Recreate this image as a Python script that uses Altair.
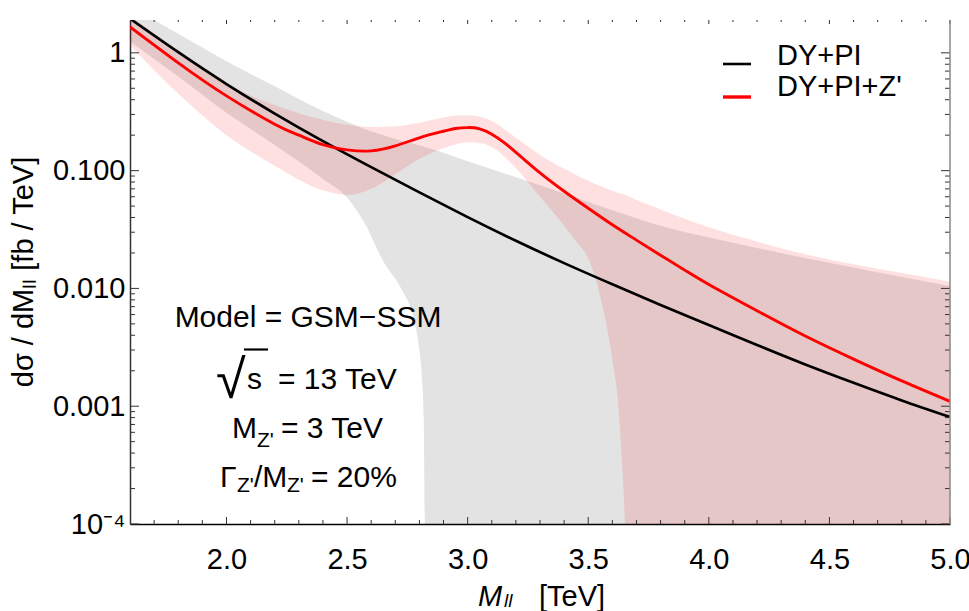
import altair as alt
import pandas as pd

FONT = "Liberation Sans"

# ---------------- series ----------------
M_BLACK = [1.6, 1.8, 2.0, 2.2, 2.4, 2.6, 2.8, 3.0, 3.2, 3.4, 3.6, 3.8, 4.0, 4.2, 4.4, 4.6, 4.8, 5.0]
DY_PI = [1.95, 1.012, 0.543, 0.305, 0.178, 0.107, 0.0653, 0.0403, 0.0254, 0.0164, 0.01084,
         0.00724, 0.0049, 0.00331, 0.00226, 0.00158, 0.00112, 0.00081]

M_RED = [1.6, 1.8, 2.0, 2.2, 2.3, 2.4, 2.5, 2.6, 2.7, 2.8, 2.9, 2.95, 3.0, 3.05, 3.1, 3.15, 3.2,
         3.3, 3.4, 3.5, 3.6, 3.7, 3.8, 3.9, 4.0, 4.2, 4.4, 4.6, 4.8, 5.0]
DY_PI_ZP = [1.66, 0.822, 0.431, 0.248, 0.2, 0.166, 0.15, 0.147, 0.162, 0.19, 0.216, 0.228, 0.232,
            0.2265, 0.204, 0.174, 0.143, 0.0955, 0.0668, 0.0479, 0.0347, 0.0257, 0.0191, 0.0143,
            0.0108, 0.00646, 0.00394, 0.00251, 0.00164, 0.0011]

M_GREY = [1.6, 1.8, 2.0, 2.2, 2.4, 2.5, 2.575, 2.65, 2.73, 2.77, 2.795, 2.81, 2.818, 2.823, 2.9,
          3.0, 3.2, 3.4, 3.6, 3.8, 4.0, 4.2, 4.5, 4.8, 5.0]
GREY_HI = [2.5, 1.45, 0.85, 0.52, 0.32, 0.26, 0.225, 0.2, 0.178, 0.17, 0.165, 0.162, 0.16, 0.159,
           0.142, 0.12, 0.088, 0.064, 0.046, 0.034, 0.027, 0.022, 0.0165, 0.0125, 0.0105]
GREY_LO = [1.25, 0.63, 0.31, 0.165, 0.085, 0.059, 0.035, 0.017, 0.0095, 0.0062, 0.0035, 0.0018,
           0.0008, 0.0001, 0.0001, 0.0001, 0.0001, 0.0001, 0.0001, 0.0001, 0.0001, 0.0001, 0.0001,
           0.0001, 0.0001]

M_PINK = [1.6, 1.8, 2.0, 2.2, 2.4, 2.5, 2.6, 2.7, 2.8, 2.9, 2.95, 3.0, 3.05, 3.1, 3.2, 3.3, 3.4,
          3.45, 3.5, 3.55, 3.6, 3.625, 3.645, 3.654, 3.7, 3.8, 4.0, 4.2, 4.4, 4.6, 4.8, 5.0]
PINK_HI = [2.05, 1.05, 0.55, 0.36, 0.27, 0.245, 0.235, 0.238, 0.255, 0.282, 0.294, 0.295, 0.287,
           0.264, 0.19, 0.136, 0.1035, 0.092, 0.0822, 0.074, 0.0676, 0.065, 0.063, 0.062, 0.0562,
           0.0468, 0.033, 0.025, 0.0195, 0.016, 0.0135, 0.0114]
PINK_LO = [1.16, 0.45, 0.20, 0.11, 0.068, 0.062, 0.07, 0.0933, 0.126, 0.155, 0.167, 0.174, 0.172,
           0.158, 0.105, 0.060, 0.034, 0.025, 0.018, 0.0085, 0.0025, 0.001, 0.00022, 0.0001, 0.0001,
           0.0001, 0.0001, 0.0001, 0.0001, 0.0001, 0.0001, 0.0001]

SERIES = ["DY+PI", "DY+PI+Z'"]
SERIES_COLORS = ["#000000", "#ff0000"]

X_LABELS = [2.0, 2.5, 3.0, 3.5, 4.0, 4.5, 5.0]
X_MINOR = [v / 10 for v in range(17, 50) if v % 5 != 0]
Y_LABELS = [1e-4, 1e-3, 1e-2, 1e-1, 1.0]
Y_MINOR = [k * 10.0 ** e for e in range(-4, 0) for k in range(2, 10)]

# ---------------- layout ----------------
W, H = 820, 504
xs = alt.Scale(domain=[1.6, 5.0], nice=False, zero=False)
ys = alt.Scale(type="log", domain=[1e-4, 1.9], nice=False)

xaxis = alt.Axis(values=X_LABELS, format=".1f", ticks=False, tickSize=0, grid=False,
                 domainColor="#000000", domainWidth=1.3, labelFont=FONT, labelFontSize=29,
                 labelColor="#000000", labelPadding=21, title=None, labelFlush=False,
                 labelOverlap=False)
ylabel_expr = ("datum.value >= 0.5 ? '1' : datum.value >= 0.05 ? '0.100' : "
               "datum.value >= 0.005 ? '0.010' : datum.value >= 0.0005 ? '0.001' : '10\u207b\u2074'")
yaxis = alt.Axis(values=Y_LABELS, labelExpr=ylabel_expr, ticks=False, tickSize=0, grid=False,
                 domainColor="#333333", domainWidth=1.5, labelFont=FONT, labelFontSize=29,
                 labelColor="#000000", labelPadding=5, title=None, labelFlush=False,
                 labelOverlap=False, labelBaseline="middle")


def X(field):
    return alt.X(field, scale=xs, axis=xaxis)


def Y(field):
    return alt.Y(field, scale=ys, axis=yaxis)


grey = alt.Chart(pd.DataFrame({"m": M_GREY, "lo": GREY_LO, "hi": GREY_HI})).mark_area(
    color="#000000", opacity=0.11, interpolate="monotone", clip=True
).encode(x=X("m:Q"), y=Y("hi:Q"), y2="lo:Q")

pink = alt.Chart(pd.DataFrame({"m": M_PINK, "lo": PINK_LO, "hi": PINK_HI})).mark_area(
    color="#ff0000", opacity=0.12, interpolate="monotone", clip=True
).encode(x=X("m:Q"), y=Y("hi:Q"), y2="lo:Q")

black = alt.Chart(pd.DataFrame({"m": M_BLACK, "v": DY_PI})).mark_line(
    color=SERIES_COLORS[0], strokeWidth=2.7, interpolate="natural", clip=True
).encode(x=X("m:Q"), y=Y("v:Q"))

red = alt.Chart(pd.DataFrame({"m": M_RED, "v": DY_PI_ZP})).mark_line(
    color=SERIES_COLORS[1], strokeWidth=2.9, interpolate="natural", clip=True
).encode(x=X("m:Q"), y=Y("v:Q"))

TICK_COLOR = "#333333"


def yticks(vals, x0, x1):
    return alt.Chart(pd.DataFrame({"v": vals})).mark_rule(color=TICK_COLOR, strokeWidth=1).encode(
        y=Y("v:Q"), x=alt.value(x0), x2=alt.value(x1))


def xticks(vals, y0, y1):
    return alt.Chart(pd.DataFrame({"v": vals})).mark_rule(color=TICK_COLOR, strokeWidth=1).encode(
        x=X("v:Q"), y=alt.value(y0), y2=alt.value(y1))


tick_layers = [
    yticks(Y_LABELS, 0, 9), yticks(Y_MINOR, 0, 5),
    yticks(Y_LABELS, W - 9, W), yticks(Y_MINOR, W - 5, W),
    xticks(X_LABELS, H - 7, H), xticks(X_MINOR, H - 4, H),
    xticks(X_LABELS, 0, 4), xticks(X_MINOR, 0, 2),
]

right_frame = alt.Chart(pd.DataFrame({"a": [0]})).mark_rule(color="#888888", strokeWidth=1.5).encode(
    x=alt.value(W), y=alt.value(0), y2=alt.value(H))


def txt(s, x, y, size=30, align="left", baseline="alphabetic", style="normal", angle=0):
    return alt.Chart(pd.DataFrame({"t": [s]})).mark_text(
        align=align, baseline=baseline, font=FONT, fontSize=size, fontStyle=style,
        angle=angle, color="#000000"
    ).encode(x=alt.value(x), y=alt.value(y), text="t:N")


def seg(x0, x1, y0, color, width):
    return alt.Chart(pd.DataFrame({"a": [0]})).mark_rule(color=color, strokeWidth=width).encode(
        x=alt.value(x0), x2=alt.value(x1), y=alt.value(y0))


legend = [
    seg(593, 621, 44, SERIES_COLORS[0], 2.6),
    seg(593, 621, 77, SERIES_COLORS[1], 3.4),
    txt(SERIES[0], 647, 45, size=29),
    txt(SERIES[1], 647, 76, size=29),
]

notes = [
    txt("Model = GSM\u2212SSM", 178, 307, size=30, align="center"),
    txt("\u221a", 86, 378, size=54),
    seg(114, 138, 329.5, "#000000", 2.2),
    txt("s", 117, 369, size=30),
    txt("= 13 TeV", 148, 369, size=30),
    txt("M", 102, 418, size=30),
    txt("Z'", 127, 427, size=21),
    txt("= 3 TeV", 151, 418, size=30),
    txt("\u0393", 90, 467, size=30),
    txt("Z'", 107, 472, size=21),
    txt("/M", 124, 467, size=30),
    txt("Z'", 157, 472, size=21),
    txt("= 20%", 181, 467, size=30),
]

titles = [
    txt("d\u03c3 / dM\u2097\u2097 [fb / TeV]", -106, 252, size=29, align="center",
        baseline="middle", angle=270),
    txt("M", 348, 586, size=29, style="italic"),
    txt("ll", 374, 587, size=19, style="italic"),
    txt("[TeV]", 409, 586, size=29),
]

chart = alt.layer(
    grey, pink, black, red, *tick_layers, right_frame, *legend, *notes, *titles
).properties(
    width=W, height=H,
    padding={"left": 130, "top": 20, "right": 19, "bottom": 87},
    autosize=alt.AutoSizeParams(type="none"),
).configure_view(stroke=None)

chart.save("out.html", embed_options={"renderer": "svg", "actions": False})
